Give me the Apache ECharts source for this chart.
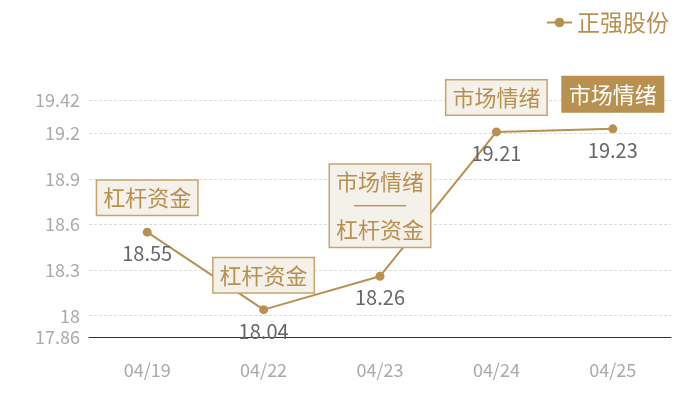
<!DOCTYPE html>
<html>
<head>
<meta charset="utf-8">
<script src="https://cdn.jsdelivr.net/npm/echarts@6/dist/echarts.min.js"></script>
<style>html,body{margin:0;padding:0;background:#fff}#c{width:700px;height:400px}</style>
</head>
<body>
<div id="c"></div>
<script>
var seriesName = '正强股份';
var categories = ['04/19', '04/22', '04/23', '04/24', '04/25'];
var prices = [18.55, 18.04, 18.26, 19.21, 19.23];
var yTicks = [17.86, 18, 18.3, 18.6, 18.9, 19.2, 19.42];
var notes = [['杠杆资金'], ['杠杆资金'], ['市场情绪', '杠杆资金'], ['市场情绪'], ['市场情绪']];
var highlighted = [false, false, false, false, true];

var GOLD = '#b8904f';
var FONT = '"Noto Sans CJK SC", "Noto Sans", sans-serif';

var markData = prices.map(function (v, i) {
  var hi = highlighted[i];
  var multi = notes[i].length > 1;
  return {
    coord: [categories[i], v],
    symbolSize: 1,
    itemStyle: { color: 'rgba(0,0,0,0)' },
    label: {
      show: true,
      position: 'top',
      distance: multi ? 29 : (hi ? 17 : 17),
      formatter: notes[i].map(function (t) { return '{t|' + t + '}'; }).join('\n{hr|}\n'),
      backgroundColor: hi ? GOLD : '#f4f0ea',
      borderColor: hi ? GOLD : '#c6a46c',
      borderWidth: 1.5,
      padding: [5, 6, 5, 6],
      textBorderWidth: 0,
      textShadowBlur: 0,
      rich: {
        t: { fontSize: 22, lineHeight: 24, color: hi ? '#ffffff' : GOLD, fontFamily: FONT, textBorderWidth: 0 },
        hr: { width: 52, height: 0, borderWidth: 1, borderColor: GOLD, lineHeight: 24 }
      }
    }
  };
});

var chart = echarts.init(document.getElementById('c'));
chart.setOption({
  animation: false,
  legend: {
    data: [seriesName],
    right: 26,
    top: 6,
    itemWidth: 25,
    itemHeight: 12,
    textStyle: { color: GOLD, fontSize: 23, fontFamily: FONT }
  },
  grid: { left: 89, right: 29, top: 100, bottom: 63 },
  xAxis: {
    type: 'category',
    data: categories,
    boundaryGap: true,
    axisLine: { lineStyle: { color: '#333', width: 1 } },
    axisTick: { show: false },
    axisLabel: { color: '#aaaaaa', fontSize: 18, margin: 24, fontFamily: FONT }
  },
  yAxis: {
    type: 'value',
    min: 17.86,
    max: 19.42,
    axisLine: { show: false },
    axisTick: { show: false, customValues: yTicks },
    axisLabel: { color: '#aaaaaa', fontSize: 18, margin: 9, fontFamily: FONT, customValues: yTicks },
    splitLine: { show: true, lineStyle: { color: '#dddddd', type: [3, 2], width: 1 } }
  },
  series: [
    {
      name: seriesName,
      type: 'line',
      data: prices,
      symbol: 'circle',
      symbolSize: 9,
      lineStyle: { color: GOLD, width: 2 },
      itemStyle: { color: GOLD },
      label: {
        show: true,
        position: 'bottom',
        distance: 7,
        color: '#666666',
        fontSize: 20,
        fontFamily: FONT
      },
      markPoint: {
        symbol: 'circle',
        silent: true,
        data: markData
      }
    }
  ]
});
</script>
</body>
</html>
